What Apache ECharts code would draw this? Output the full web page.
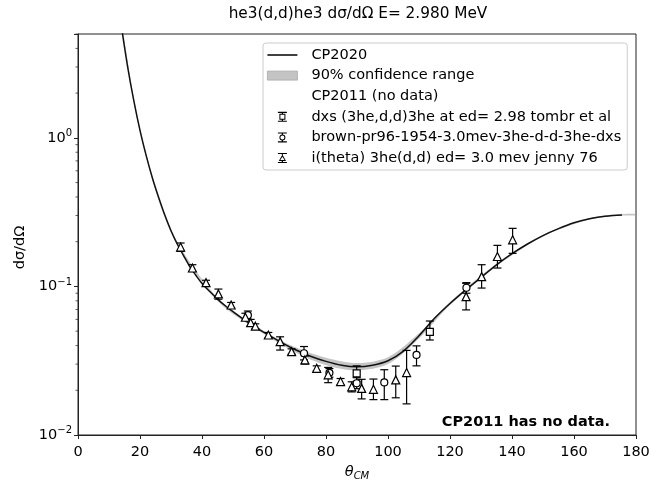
<!DOCTYPE html>
<html>
<head>
<meta charset="utf-8">
<script src="https://cdn.jsdelivr.net/npm/echarts@6/dist/echarts.min.js"></script>
<style>html,body{margin:0;padding:0;background:#fff}#c{width:652px;height:481px}</style>
</head>
<body>
<div id="c"></div>
<script>
// ---- data ----
const cpTheta = [13.0,14.0,16.0,18.0,20.0,22.0,24.0,26.0,28.0,30.0,32.0,34.0,36.0,38.0,40.0,42.5,45.0,47.5,50.0,55.0,60.0,65.0,70.0,75.0,80.0,85.0,90.0,95.0,100.0,105.0,110.0,115.0,120.0,125.0,130.0,135.0,140.0,145.0,150.0,155.0,160.0,165.0,170.0,175.5];
const cpValue = [7.94,5.62,3.02,1.778,1.122,0.759,0.537,0.398,0.302,0.237,0.193,0.162,0.1365,0.119,0.1047,0.0923,0.0822,0.0741,0.0676,0.0569,0.0490,0.0427,0.0376,0.0339,0.0313,0.0295,0.0288,0.0295,0.0316,0.0367,0.0465,0.0610,0.0767,0.0944,0.1148,0.1396,0.1660,0.1930,0.2200,0.2450,0.2680,0.2850,0.2970,0.3030];
const bandTheta = [13.0,20.0,30.0,45.0,60.0,70.0,80.0,90.0,100.0,110.0,120.0,135.0,150.0,165.0,175.5,180.0];
const bandLow  = [7.70,1.09,0.231,0.0802,0.0478,0.0361,0.0295,0.0272,0.0300,0.0447,0.0750,0.1371,0.2170,0.2820,0.3000,0.3015];
const bandHigh = [8.18,1.15,0.243,0.0842,0.0502,0.0391,0.0331,0.0305,0.0334,0.0484,0.0786,0.1421,0.2230,0.2880,0.3060,0.3075];

const tombrTheta = [89.9,113.5];
const tombrValue = [0.026,0.0494];
const tombrLow   = [0.023,0.0436];
const tombrHigh  = [0.0292,0.0585];

const brownTheta = [54.8,72.9,81.1,89.9,98.8,109.2,125.3];
const brownValue = [0.0640,0.0355,0.0262,0.0223,0.0226,0.0346,0.098];
const brownLow   = [0.0600,0.0320,0.0245,0.0205,0.0173,0.0292,0.090];
const brownHigh  = [0.0683,0.0394,0.0280,0.0243,0.0275,0.0398,0.106];

const jennyTheta = [33.1,36.9,41.3,45.3,49.4,54.0,55.7,57.2,61.4,65.2,68.9,73.2,77.0,80.7,84.7,88.3,91.5,95.3,102.5,106.0,125.2,130.2,135.3,140.2];
const jennyValue = [0.184,0.133,0.106,0.089,0.075,0.062,0.057,0.054,0.0471,0.0425,0.0364,0.032,0.0281,0.0254,0.0229,0.0211,0.0206,0.0203,0.0235,0.0263,0.0854,0.1164,0.159,0.206];
const jennyLow   = [0.172,0.126,0.102,0.082,0.072,0.059,0.054,0.052,0.045,0.0373,0.035,0.030,0.027,0.0225,0.0218,0.0195,0.0175,0.0173,0.0178,0.0162,0.0695,0.0975,0.133,0.167];
const jennyHigh  = [0.196,0.140,0.110,0.096,0.078,0.066,0.060,0.056,0.049,0.0458,0.038,0.034,0.0292,0.0285,0.0240,0.0228,0.0237,0.0238,0.0291,0.0371,0.105,0.140,0.189,0.246];

const xTicks = [0,20,40,60,80,100,120,140,160,180];
const yMinorTicks = [0.02,0.03,0.04,0.05,0.06,0.07,0.08,0.09,0.2,0.3,0.4,0.5,0.6,0.7,0.8,0.9,2,3,4,5];

const titleText = 'he3(d,d)he3 dσ/dΩ E= 2.980 MeV';
const nameCP2020 = 'CP2020';
const nameBand = '90% confidence range';
const nameCP2011 = 'CP2011 (no data)';
const nameTombr = 'dxs (3he,d,d)3he at ed= 2.98 tombr et al';
const nameBrown = 'brown-pr96-1954-3.0mev-3he-d-d-3he-dxs';
const nameJenny = 'i(theta) 3he(d,d) ed= 3.0 mev jenny 76';
const noteText = 'CP2011 has no data.';

// ---- chart ----
const FONT = 'DejaVu Sans';
const FS = 14.5;
const zip = (a, b) => a.map((v, i) => [v, b[i]]);
const zip3 = (a, b, c) => a.map((v, i) => [v, b[i], c[i]]);

function errRender(params, api) {
  const x = api.value(0);
  const p1 = api.coord([x, api.value(1)]);
  const p2 = api.coord([x, api.value(2)]);
  const cw = 4;
  const st = {stroke: '#000', lineWidth: 1.2};
  return {type: 'group', children: [
    {type: 'line', shape: {x1: p1[0], y1: p1[1], x2: p2[0], y2: p2[1]}, style: st},
    {type: 'line', shape: {x1: p1[0]-cw, y1: p1[1], x2: p1[0]+cw, y2: p1[1]}, style: st},
    {type: 'line', shape: {x1: p2[0]-cw, y1: p2[1], x2: p2[0]+cw, y2: p2[1]}, style: st}
  ]};
}

function bandRender(params, api) {
  const pts = [];
  for (let i = 0; i < bandTheta.length; i++) pts.push(api.coord([bandTheta[i], bandHigh[i]]));
  for (let i = bandTheta.length - 1; i >= 0; i--) pts.push(api.coord([bandTheta[i], bandLow[i]]));
  return {type: 'polygon', shape: {points: pts, smooth: 0.3}, style: {fill: 'rgba(150,150,150,0.55)', stroke: 'none'}};
}

function minorRender(params, api) {
  const p = api.coord([0, api.value(1)]);
  return {type: 'line', shape: {x1: p[0]-2.5, y1: p[1], x2: p[0], y2: p[1]}, style: {stroke: '#333', lineWidth: 0.8}};
}

const sqIcon = 'path://M4.4,0H5.6V2H4.4Z M4.4,8H5.6V10H4.4Z M0.5,0H9.5V1.1H0.5Z M0.5,8.9H9.5V10H0.5Z M2,2H8V8H2Z M3,3V7H7V3Z';
const ciIcon = 'path://M4.4,0H5.6V2H4.4Z M4.4,8H5.6V10H4.4Z M0.5,0H9.5V1.1H0.5Z M0.5,8.9H9.5V10H0.5Z M2,5A3,3 0 1 1 8,5A3,3 0 1 1 2,5Z M3,5A2,2 0 1 0 7,5A2,2 0 1 0 3,5Z';
const trIcon = 'path://M4.4,0H5.6V1.8H4.4Z M4.4,8H5.6V10H4.4Z M0.5,0H9.5V1.1H0.5Z M0.5,8.9H9.5V10H0.5Z M5,1.6L8.6,8L1.4,8Z M5,3.7L2.9,7.1L7.1,7.1Z';

function yLabel(v) {
  const l = Math.log10(v);
  const e = Math.round(l);
  if (Math.abs(l - e) > 1e-6) return '';
  return '{b|10}{s|' + (e < 0 ? '\u2212' + (-e) : e) + '}';
}

const chart = echarts.init(document.getElementById('c'), null, {renderer: 'canvas'});
chart.setOption({
  animation: false,
  backgroundColor: '#fff',
  textStyle: {fontFamily: FONT},
  title: {
    text: titleText, left: 353, top: 2, textAlign: 'center',
    textStyle: {fontFamily: FONT, fontSize: 15.3, fontWeight: 'normal', color: '#000'}
  },
  grid: {left: 78, right: 16, top: 34, bottom: 46, containLabel: false, outerBoundsMode: 'none',
         show: true, borderColor: '#222', borderWidth: 1, backgroundColor: 'transparent'},
  legend: {
    orient: 'vertical', left: 263, top: 43,
    padding: [2, 6, 2, 4],
    itemWidth: 30, itemHeight: 10, itemGap: 0.6,
    backgroundColor: 'rgba(255,255,255,0.85)', borderColor: '#cccccc', borderWidth: 1, borderRadius: 3,
    textStyle: {fontFamily: FONT, fontSize: FS, color: '#000', lineHeight: 20, padding: [0, 0, 0, 9]},
    data: [
      {name: nameCP2020, icon: 'path://M0,0H30V1.5H0Z', itemStyle: {color: '#000', borderWidth: 0}},
      {name: nameBand, icon: 'path://M0,0H30V9H0Z', itemStyle: {color: '#c4c4c4', borderColor: '#aaaaaa', borderWidth: 0.8}},
      {name: nameCP2011, icon: 'none'},
      {name: nameTombr, icon: sqIcon, itemStyle: {color: '#000', borderWidth: 0}},
      {name: nameBrown, icon: ciIcon, itemStyle: {color: '#000', borderWidth: 0}},
      {name: nameJenny, icon: trIcon, itemStyle: {color: '#000', borderWidth: 0}}
    ]
  },
  xAxis: {
    type: 'value', min: 0, max: 180, interval: 20,
    name: '{t|θ}{c|CM}', nameLocation: 'middle', nameGap: 17,
    nameTextStyle: {rich: {t: {fontFamily: FONT, fontSize: FS, fontStyle: 'italic', color: '#000'}, c: {fontFamily: FONT, fontSize: 10, fontStyle: 'italic', color: '#000', verticalAlign: 'top', padding: [9, 0, 0, 0]}}},
    axisLine: {show: true, lineStyle: {color: '#222', width: 1}},
    axisTick: {show: true, length: 4, lineStyle: {color: '#222'}},
    axisLabel: {fontFamily: FONT, fontSize: FS, color: '#000', margin: 10},
    splitLine: {show: false}
  },
  yAxis: {
    type: 'log', logBase: 10, min: 0.01, max: 5,
    name: 'dσ/dΩ', nameLocation: 'middle', nameGap: 45, nameRotate: 90,
    nameTextStyle: {fontFamily: FONT, fontSize: FS, color: '#000', padding: [0, 26, 0, 0]},
    axisLine: {show: true, lineStyle: {color: '#222', width: 1}},
    axisTick: {show: true, length: 4, lineStyle: {color: '#222'}},
    axisLabel: {
      formatter: yLabel, margin: 6,
      rich: {b: {fontFamily: FONT, fontSize: FS, color: '#000'}, s: {fontFamily: FONT, fontSize: 10, color: '#000', verticalAlign: 'top', padding: [0, 0, 9, 0]}}
    },
    splitLine: {show: false}
  },
  series: [
    {name: nameBand, type: 'custom', renderItem: bandRender, data: [[0, 0]], clip: true, silent: true, z: 1},
    {name: nameCP2020, type: 'line', data: zip(cpTheta, cpValue), smooth: 0.35, showSymbol: false, clip: true,
     lineStyle: {color: '#111', width: 1.5}, itemStyle: {color: '#111'}, z: 2},
    {name: nameCP2011, type: 'line', data: []},
    {name: 'tombr-err', type: 'custom', renderItem: errRender, data: zip3(tombrTheta, tombrLow, tombrHigh), z: 3},
    {name: 'brown-err', type: 'custom', renderItem: errRender, data: zip3(brownTheta, brownLow, brownHigh), z: 3},
    {name: 'jenny-err', type: 'custom', renderItem: errRender, data: zip3(jennyTheta, jennyLow, jennyHigh), z: 3},
    {name: nameTombr, type: 'scatter', symbol: 'rect', symbolSize: 7, data: zip(tombrTheta, tombrValue),
     itemStyle: {color: '#fff', borderColor: '#000', borderWidth: 1.2, opacity: 1}, z: 4},
    {name: nameBrown, type: 'scatter', symbol: 'circle', symbolSize: 7, data: zip(brownTheta, brownValue),
     itemStyle: {color: '#fff', borderColor: '#000', borderWidth: 1.2, opacity: 1}, z: 4},
    {name: nameJenny, type: 'scatter', symbol: 'triangle', symbolSize: 8, data: zip(jennyTheta, jennyValue),
     itemStyle: {color: '#fff', borderColor: '#000', borderWidth: 1.2, opacity: 1}, z: 4},
    {name: 'yminor', type: 'custom', renderItem: minorRender, data: yMinorTicks.map(v => [0, v]), silent: true, z: 5}
  ],
  graphic: [
    {type: 'text', right: 42, top: 415, style: {text: noteText, font: 'bold ' + FS + 'px "DejaVu Sans"', fill: '#000'}}
  ]
});
</script>
</body>
</html>
